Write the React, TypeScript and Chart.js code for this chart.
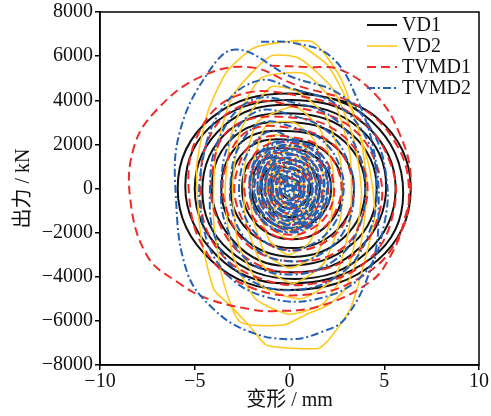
import React, { useEffect, useRef } from 'react';
import { Chart, registerables } from 'chart.js';

Chart.register(...registerables);

const seriesLabels = ['VD1', 'VD2', 'TVMD1', 'TVMD2'];

const xTickValues = [-10, -5, 0, 5, 10];
const xTickLabels = ['−10', '−5', '0', '5', '10'];
const yTickValues = [-8000, -6000, -4000, -2000, 0, 2000, 4000, 6000, 8000];
const yTickLabels = ['−8000', '−6000', '−4000', '−2000', '0', '2000', '4000', '6000', '8000'];

// VD1 (black): displacement mm, force kN
const vd1: number[][] = [
  [0.25, 4500], [4.62, 3200], [6.4, 0], [4.62, -3270], [0.0, -4600], [-4.12, -3270], [-5.9, 0], [-4.12, 3200],
  [0.25, 4300], [4.33, 3050], [6.0, -200], [4.33, -3150], [-0.3, -4300], [-3.83, -3050], [-5.5, 100], [-3.83, 3050],
  [0.5, 4000], [4.06, 2840], [5.6, 0], [4.06, -2910], [0.3, -4100], [-3.46, -2910], [-5.0, 0], [-3.46, 2840],
  [0.0, 3800], [3.69, 2730], [5.1, 100], [3.69, -2700], [0.25, -3800], [-3.19, -2800], [-4.6, -100], [-3.19, 2630],
  [0.25, 3400], [3.34, 2410], [4.6, 0], [3.34, -2490], [-0.2, -3500], [-2.84, -2490], [-4.1, 0], [-2.84, 2410],
  [0.2, 3000], [2.9, 2130], [4.0, 0], [2.9, -2200], [0.2, -3100], [-2.5, -2200], [-3.6, 0], [-2.5, 2130],
  [0.15, 2600], [2.46, 1850], [3.4, 0], [2.46, -1920], [0.15, -2700], [-2.16, -1920], [-3.1, 0], [-2.16, 1850],
  [0.15, 2200], [2.03, 1560], [2.8, 0], [2.03, -1630], [0.15, -2300], [-1.73, -1630], [-2.5, 0], [-1.73, 1560],
  [0.1, 1800], [1.59, 1280], [2.2, 0], [1.59, -1280], [0.1, -1800], [-1.39, -1280], [-2.0, 0], [-1.39, 1280],
  [0.05, 1300], [1.15, 920], [1.6, 0], [1.15, -920], [0.05, -1300], [-1.05, -920], [-1.5, 0], [-1.05, 920],
  [0.05, 900], [0.8, 640], [1.1, 0], [0.8, -640], [0.05, -900], [-0.7, -640], [-1.0, 0], [-0.7, 640],
  [0.05, 450], [0.45, 320], [0.6, 0], [0.45, -320], [0.05, -450], [-0.35, -320], [-0.5, 0], [-0.35, 320], [0.05, 100],
];

// VD2 (yellow)
const vd2: number[][] = [
  [0.2, 6740], [2.0, 5600], [3.3, 3500], [4.2, 1000], [4.5, -1200], [3.9, -3500], [3.2, -5470], [2.1, -6830], [1.5, -7250],
  [-1.2, -7100], [-2.1, -6240], [-3.1, -5330], [-4.0, -4560], [-4.7, -2000], [-4.9, 1000], [-4.3, 3500], [-3.3, 5300], [-1.8, 6400],
  [1.2, 6650], [2.7, 5000], [3.7, 2500], [4.1, 0], [3.7, -2800], [2.9, -4600], [2.0, -5300], [0.9, -5700], [-0.3, -6190],
  [-2.6, -6060], [-3.5, -4200], [-4.0, -1500], [-3.9, 1500], [-3.0, 4200], [-1.0, 6000],
  [0.5, 5900], [2.3, 4500], [3.4, 2200], [3.8, -300], [3.2, -3300], [1.8, -5200], [0, -5700], [-1.8, -5000], [-3.0, -3000], [-3.4, -200], [-3.0, 2700], [-1.5, 5000],
  [0.8, 5200], [2.4, 3800], [3.2, 1500], [3.2, -1500], [2.4, -4000], [0.6, -5000], [-1.5, -4400], [-2.7, -2500], [-3.0, 0], [-2.6, 2600], [-1.0, 4600],
  [0.4, 4400], [1.9, 3300], [2.7, 1200], [2.7, -1300], [1.8, -3400], [0.2, -4300], [-1.4, -3500], [-2.3, -1500], [-2.4, 800], [-1.7, 3000],
  [0.3, 3700], [1.6, 2700], [2.3, 800], [2.2, -1300], [1.4, -3000], [0, -3600], [-1.3, -2900], [-2.0, -1000], [-1.9, 1200], [-1.2, 2900],
  [0.2, 3000], [1.3, 2200], [1.8, 500], [1.7, -1200], [1.0, -2500], [-0.1, -3000], [-1.1, -2300], [-1.6, -700], [-1.5, 1000], [-0.9, 2400],
  [0.1, 2300], [1.0, 1700], [1.4, 300], [1.3, -1000], [0.7, -2000], [-0.1, -2300], [-0.9, -1700], [-1.2, -400], [-1.1, 900], [-0.7, 1900],
  [0.1, 1900], [0.9, 1400], [1.2, 250], [1.1, -800], [0.5, -1700], [-0.1, -1900], [-0.8, -1400], [-1.05, -300], [-0.95, 800], [-0.5, 1600],
  [0.1, 1600], [0.7, 1200], [1.0, 200], [0.9, -700], [0.4, -1400], [-0.2, -1600], [-0.7, -1100], [-0.9, -200], [-0.8, 700], [-0.4, 1400],
  [0.05, 1200], [0.55, 900], [0.8, 150], [0.7, -500], [0.3, -1050], [-0.15, -1200], [-0.55, -850], [-0.7, -100], [-0.6, 550], [-0.3, 1050],
  [0, 900], [0.5, 600], [0.6, 0], [0.4, -600], [0, -900], [-0.4, -600], [-0.5, 0], [-0.4, 600], [0, 500],
  [0.25, 350], [0.3, 0], [0.2, -350], [0, -450], [-0.2, -300], [-0.25, 50], [-0.15, 300], [0, 200],
];

// TVMD1 (red dashed)
const tvmd1: number[][] = [
  [-1.0, 5560], [1.0, 5500], [2.7, 5380], [4.6, 4200], [5.8, 2500], [6.4, 500], [6.0, -1630], [5.3, -3100], [4.3, -4200], [1.6, -5330],
  [-0.9, -5560], [-2.1, -5470], [-4.3, -5000], [-5.9, -4250], [-7.5, -3070], [-8.4, -500], [-8.2, 1900], [-7.0, 3570], [-4.7, 5060], [-2.1, 5500],
  [0.3, 4700], [3.5, 3800], [5.5, 2200], [6.3, 0], [5.7, -2300], [3.8, -4000], [1.0, -4800], [-2.0, -4500], [-4.3, -3000], [-5.3, -300], [-4.8, 2500], [-2.8, 4200],
  [0.5, 4200], [3.6, 3200], [5.3, 1200], [5.5, -1000], [4.2, -3200], [1.4, -4300], [-1.8, -4000], [-4.0, -2500], [-4.7, 0], [-4.0, 2700], [-2.0, 3900],
  [0.3, 3700], [3.2, 2800], [4.7, 800], [4.7, -1200], [3.4, -3000], [0.6, -3800], [-2.0, -3300], [-3.7, -1600], [-4.1, 600], [-3.0, 2800],
  [0.4, 3200], [2.8, 2400], [4.0, 700], [3.9, -1100], [2.8, -2700], [0.4, -3300], [-2.0, -2700], [-3.3, -1000], [-3.4, 900], [-2.2, 2600],
  [0.3, 2700], [2.3, 2000], [3.3, 500], [3.2, -1000], [2.1, -2300], [0.2, -2800], [-1.7, -2200], [-2.8, -700], [-2.7, 1000], [-1.7, 2200],
  [0.3, 2300], [1.9, 1700], [2.7, 400], [2.5, -900], [1.6, -1900], [0.1, -2300], [-1.4, -1800], [-2.3, -500], [-2.2, 900], [-1.4, 1900],
  [0.2, 2050], [1.7, 1500], [2.3, 350], [2.2, -800], [1.4, -1700], [0.05, -2100], [-1.3, -1600], [-2.05, -450], [-1.95, 800], [-1.25, 1700],
  [0.2, 1800], [1.5, 1300], [2.0, 300], [1.9, -700], [1.2, -1500], [0, -1900], [-1.1, -1400], [-1.8, -400], [-1.7, 700], [-1.1, 1500],
  [0.15, 1550], [1.25, 1150], [1.7, 250], [1.6, -600], [1.0, -1300], [0, -1650], [-0.95, -1200], [-1.55, -350], [-1.45, 600], [-0.95, 1300],
  [0.1, 1300], [1.0, 1000], [1.4, 200], [1.3, -500], [0.8, -1100], [0, -1400], [-0.8, -1000], [-1.3, -300], [-1.2, 500], [-0.8, 1100],
  [0.1, 1100], [0.85, 800], [1.2, 150], [1.1, -450], [0.65, -950], [0, -1150], [-0.7, -850], [-1.1, -250], [-1.0, 450], [-0.65, 950],
  [0.1, 900], [0.7, 650], [1.0, 100], [0.9, -400], [0.5, -800], [0, -900], [-0.6, -700], [-0.9, -200], [-0.8, 400], [-0.5, 800],
  [0.05, 700], [0.55, 500], [0.75, 100], [0.65, -300], [0.35, -600], [0, -700], [-0.45, -550], [-0.7, -150], [-0.6, 300], [-0.4, 600],
  [0, 500], [0.4, 350], [0.5, 0], [0.4, -350], [0, -500], [-0.4, -350], [-0.5, 0], [-0.3, 350], [0, 100],
];

// TVMD2 (blue dash-dot)
const tvmd2: number[][] = [
  [-1.5, 6650], [0.2, 6600], [2.2, 5970], [3.6, 4000], [4.5, 1500], [4.7, -1000], [4.4, -3300], [3.0, -5830], [1.8, -6470], [0, -6830],
  [-2.2, -6460], [-4.0, -5470], [-5.4, -3800], [-6.0, -300], [-5.8, 2530], [-4.3, 5240], [-2.8, 6300],
  [0, 5100], [2.6, 4300], [4.3, 2700], [5.1, 600], [5.0, -1600], [4.0, -3800], [1.5, -5000], [-1.3, -4900], [-3.5, -3700], [-4.6, -1500], [-4.6, 1200], [-3.5, 3700], [-1.6, 4900],
  [0.2, 4500], [2.5, 3800], [4.1, 2200], [4.6, 200], [4.2, -2000], [2.8, -3800], [0.3, -4600], [-2.2, -4100], [-3.8, -2500], [-4.2, -100], [-3.7, 2300], [-2.0, 4000],
  [0.2, 3900], [2.3, 3200], [3.6, 1700], [4.0, 0], [3.6, -1900], [2.3, -3300], [0.2, -3900], [-2.0, -3400], [-3.3, -1800], [-3.6, 200], [-3.1, 2200], [-1.7, 3500],
  [0.2, 3300], [2.0, 2600], [3.1, 1200], [3.4, -300], [2.9, -1900], [1.6, -3000], [0, -3300], [-1.7, -2800], [-2.9, -1400], [-3.1, 400], [-2.6, 2000], [-1.4, 3000],
  [0.1, 2800], [1.7, 2200], [2.7, 900], [2.8, -500], [2.2, -1800], [1.0, -2600], [-0.2, -2800], [-1.6, -2200], [-2.5, -900], [-2.6, 600], [-2.0, 1900], [-1.0, 2600],
  [0.03, 2300], [1.56, 1680], [2.18, 150], [1.56, -1380], [0.03, -2000], [-1.5, -1380], [-2.12, 150], [-1.5, 1680],
  [-0.02, 2200], [1.44, 1600], [2.03, 120], [1.44, -1360], [-0.02, -1960], [-1.48, -1360], [-2.07, 120], [-1.48, 1600],
  [0.04, 2120], [1.42, 1550], [1.99, 140], [1.42, -1270], [0.04, -1840], [-1.34, -1270], [-1.91, 140], [-1.34, 1550],
  [0, 1980], [1.31, 1435], [1.85, 100], [1.31, -1235], [0, -1780], [-1.31, -1235], [-1.85, 100], [-1.31, 1435],
  [0.05, 1930], [1.29, 1410], [1.8, 130], [1.29, -1150], [0.05, -1670], [-1.19, -1150], [-1.7, 130], [-1.19, 1410],
  [-0.03, 1800], [1.14, 1310], [1.62, 100], [1.14, -1110], [-0.03, -1600], [-1.2, -1110], [-1.68, 100], [-1.2, 1310],
  [0.02, 1720], [1.12, 1260], [1.57, 120], [1.12, -1020], [0.02, -1480], [-1.08, -1020], [-1.53, 120], [-1.08, 1260],
  [0, 1590], [1.03, 1155], [1.45, 90], [1.03, -975], [0, -1410], [-1.03, -975], [-1.45, 90], [-1.03, 1155],
  [0.04, 1530], [1.0, 1120], [1.39, 110], [1.0, -900], [0.04, -1310], [-0.92, -900], [-1.31, 110], [-0.92, 1120],
  [-0.02, 1400], [0.87, 1020], [1.23, 80], [0.87, -860], [-0.02, -1240], [-0.91, -860], [-1.27, 80], [-0.91, 1020],
  [0.03, 1320], [0.85, 970], [1.18, 100], [0.85, -770], [0.03, -1120], [-0.79, -770], [-1.12, 100], [-0.79, 970],
  [0, 1200], [0.75, 875], [1.05, 80], [0.75, -715], [0, -1040], [-0.75, -715], [-1.05, 80], [-0.75, 875],
  [0.03, 1110], [0.7, 814], [0.98, 90], [0.7, -634], [0.03, -930], [-0.64, -634], [-0.92, 90], [-0.64, 814],
  [-0.02, 990], [0.58, 723], [0.83, 70], [0.58, -583], [-0.02, -850], [-0.62, -583], [-0.87, 70], [-0.62, 723],
  [0.02, 900], [0.55, 662], [0.77, 80], [0.55, -502], [0.02, -740], [-0.51, -502], [-0.73, 80], [-0.51, 662],
  [0, 780], [0.46, 571], [0.65, 60], [0.46, -451], [0, -660], [-0.46, -451], [-0.65, 60], [-0.46, 571],
  [0.02, 690], [0.41, 510], [0.57, 70], [0.41, -370], [0.02, -550], [-0.37, -370], [-0.53, 70], [-0.37, 510],
  [0, 570], [0.32, 419], [0.45, 50], [0.32, -319], [0, -470], [-0.32, -319], [-0.45, 50], [-0.32, 419],
  [0.01, 480], [0.26, 358], [0.36, 60], [0.26, -238], [0.01, -360], [-0.24, -238], [-0.34, 60], [-0.24, 358],
  [0, 370], [0.18, 277], [0.25, 50], [0.18, -177], [0, -270], [-0.18, -177], [-0.25, 50], [-0.18, 277],
  [0, 270], [0.11, 206], [0.15, 50], [0.11, -106], [0, -170], [-0.11, -106], [-0.15, 50], [-0.11, 206],
  [0, 170], [0.05, 135], [0.07, 50], [0.05, -35], [0, -70], [-0.05, -35], [-0.07, 50], [-0.05, 135], [0, 50],
];

const FONT = "'Liberation Serif', 'Times New Roman', 'Noto Sans CJK SC', serif";

const toPoints = (arr: number[][]) => arr.map(([x, y]) => ({ x, y }));

const framePlugin = {
  id: 'frameBox',
  afterDraw(chart: any) {
    const { ctx, chartArea } = chart;
    ctx.save();
    ctx.strokeStyle = '#000';
    ctx.lineWidth = 1.5;
    ctx.strokeRect(chartArea.left, chartArea.top, chartArea.right - chartArea.left, chartArea.bottom - chartArea.top);
    ctx.restore();
  },
};

const legendPlugin = {
  id: 'innerLegend',
  afterDraw(chart: any) {
    const { ctx, chartArea } = chart;
    const x0 = chartArea.right - 112;
    chart.data.datasets.forEach((ds: any, i: number) => {
      const y = chartArea.top + 13 + i * 21;
      ctx.save();
      ctx.strokeStyle = ds.borderColor;
      ctx.lineWidth = ds.borderWidth;
      ctx.setLineDash(ds.borderDash || []);
      ctx.beginPath();
      ctx.moveTo(x0, y);
      ctx.lineTo(x0 + 30, y);
      ctx.stroke();
      ctx.setLineDash([]);
      ctx.fillStyle = '#111';
      ctx.font = `20px ${FONT}`;
      ctx.textBaseline = 'middle';
      ctx.textAlign = 'left';
      ctx.fillText(ds.label, x0 + 35, y + 1);
      ctx.restore();
    });
  },
};

export default function App() {
  const ref = useRef<HTMLCanvasElement | null>(null);

  useEffect(() => {
    if (!ref.current) return;
    const styles = [
      { color: '#111111', width: 2, dash: [], tension: 0.4, order: 4 },
      { color: '#FFC81E', width: 1.6, dash: [], tension: 0.2, order: 3 },
      { color: '#EE2A24', width: 2, dash: [9, 5], tension: 0.4, order: 2 },
      { color: '#2460B4', width: 2, dash: [8, 3, 2, 3], tension: 0.4, order: 1 },
    ];
    const data = [vd1, vd2, tvmd1, tvmd2];
    const chart = new Chart(ref.current, {
      type: 'scatter',
      data: {
        datasets: data.map((d, i) => ({
          label: seriesLabels[i],
          data: toPoints(d),
          showLine: true,
          borderColor: styles[i].color,
          backgroundColor: styles[i].color,
          borderWidth: styles[i].width,
          borderDash: styles[i].dash,
          tension: styles[i].tension,
          pointRadius: 0,
          pointHoverRadius: 0,
          fill: false,
          order: styles[i].order,
        })),
      },
      options: {
        animation: false,
        responsive: false,
        maintainAspectRatio: false,
        events: [],
        layout: { padding: { top: 12, right: 12, left: 0, bottom: 0 } },
        plugins: {
          legend: { display: false },
          tooltip: { enabled: false },
        },
        scales: {
          x: {
            type: 'linear',
            min: -10,
            max: 10,
            afterBuildTicks: (scale: any) => {
              scale.ticks = xTickValues.map((v) => ({ value: v }));
            },
            afterFit: (scale: any) => {
              scale.height = 51;
              scale.paddingLeft = 0;
              scale.paddingRight = 0;
            },
            ticks: {
              color: '#111',
              font: { family: FONT, size: 20 },
              padding: 0,
              maxRotation: 0,
              autoSkip: false,
              callback: (v: any) => {
                const i = xTickValues.indexOf(Number(v));
                return i >= 0 ? xTickLabels[i] : '';
              },
            },
            grid: { drawOnChartArea: false, drawTicks: true, tickLength: 5, color: '#000', lineWidth: 1.5 },
            border: { display: true, color: '#000', width: 1.5 },
            title: {
              display: true,
              text: '变形 / mm',
              color: '#111',
              font: { family: FONT, size: 20 },
              padding: { top: 0, bottom: 3 },
            },
          },
          y: {
            type: 'linear',
            min: -8000,
            max: 8000,
            afterBuildTicks: (scale: any) => {
              scale.ticks = yTickValues.map((v) => ({ value: v }));
            },
            afterFit: (scale: any) => {
              scale.width = 100;
              scale.paddingTop = 0;
              scale.paddingBottom = 0;
            },
            ticks: {
              color: '#111',
              font: { family: FONT, size: 20 },
              padding: 2,
              autoSkip: false,
              callback: (v: any) => {
                const i = yTickValues.indexOf(Number(v));
                return i >= 0 ? yTickLabels[i] : '';
              },
            },
            grid: { drawOnChartArea: false, drawTicks: true, tickLength: 5, color: '#000', lineWidth: 1.5 },
            border: { display: true, color: '#000', width: 1.5 },
            title: {
              display: true,
              text: '出力 / kN',
              color: '#111',
              font: { family: FONT, size: 20 },
              padding: { top: 12, bottom: 0 },
            },
          },
        },
      },
      plugins: [framePlugin, legendPlugin],
    });
    return () => chart.destroy();
  }, []);

  return (
    <div style={{ position: 'fixed', left: 0, top: 0, width: 491, height: 416, background: '#fff' }}>
      <canvas ref={ref} width={491} height={416} style={{ width: 491, height: 416, display: 'block' }} />
    </div>
  );
}
